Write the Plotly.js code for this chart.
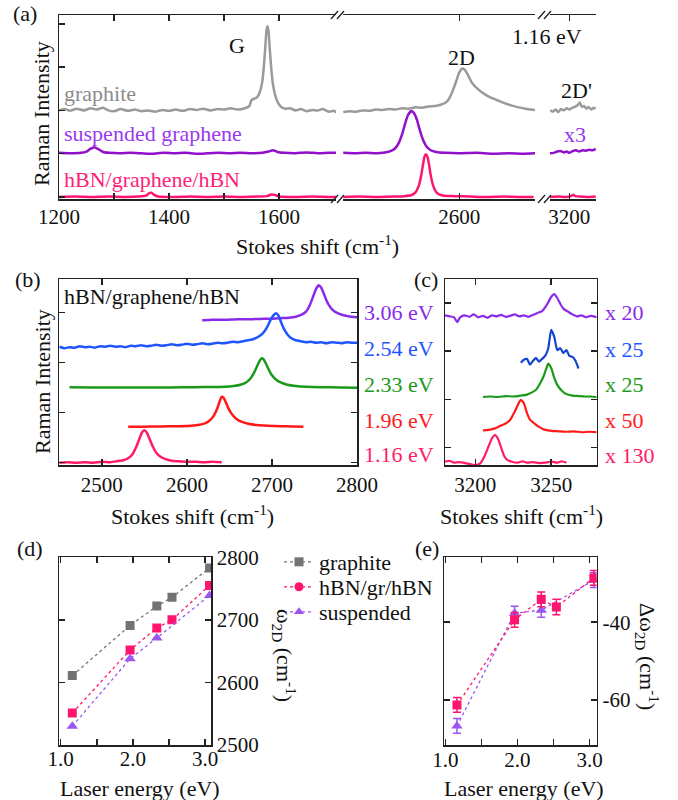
<!DOCTYPE html>
<html><head><meta charset="utf-8">
<script src="https://cdn.plot.ly/plotly-3.0.1.min.js"></script>
<style>html,body{margin:0;padding:0;background:#fff}</style>
</head><body><div id="chart" style="width:678px;height:800px"></div>
<script>
// ---------- Panel (a): 1.16 eV spectra, three broken x segments ----------
const aGraphiteS1x = [1200,1210,1220,1232,1245,1258,1268,1280,1290,1300,1312,1325,1338,1350,1362,1375,1388,1400,1412,1425,1438,1450,1462,1475,1488,1500,1512,1525,1538,1546,1550,1555,1560,1565,1569,1572,1575,1577,1579,1581,1583,1586,1589,1593,1598,1604,1612,1620,1630,1640,1650,1660,1670,1680,1690,1700,1704];
const aGraphiteS1y = [2.00,2.03,1.99,2.04,2.00,2.05,2.02,2.06,2.00,1.98,2.03,1.99,2.02,1.98,2.00,1.97,2.01,1.99,2.02,1.99,2.03,2.01,2.04,2.00,2.03,2.02,2.05,2.02,2.05,2.10,2.24,2.27,2.30,2.42,2.62,2.95,3.45,3.82,3.95,3.82,3.45,2.95,2.60,2.35,2.18,2.08,2.04,2.05,2.00,2.03,1.98,2.01,2.00,2.03,1.97,1.99,1.95];
const aGraphiteS2x = [2389,2400,2412,2424,2436,2448,2460,2472,2484,2496,2508,2520,2532,2544,2556,2566,2574,2580,2585,2590,2595,2599,2603,2606,2609,2613,2617,2622,2628,2635,2643,2652,2662,2672,2684,2696,2708,2720,2730,2738];
const aGraphiteS2y = [1.96,1.98,1.97,2.00,1.99,2.02,2.01,2.03,2.02,2.05,2.04,2.07,2.06,2.09,2.10,2.13,2.17,2.24,2.36,2.52,2.70,2.85,2.94,2.97,2.95,2.88,2.78,2.66,2.56,2.48,2.40,2.33,2.27,2.22,2.16,2.11,2.07,2.04,2.02,2.01];
const aGraphiteS3x = [3165,3170,3175,3180,3185,3190,3195,3200,3205,3210,3215,3219,3223,3227,3231,3235,3240,3244,3248];
const aGraphiteS3y = [2.00,1.97,2.02,1.96,2.03,2.00,2.05,2.02,2.06,2.08,2.12,2.18,2.08,2.10,2.04,2.08,2.02,2.06,2.04];

const aSuspS1x = [1200,1220,1240,1250,1257,1264,1271,1280,1292,1310,1330,1350,1370,1390,1410,1430,1450,1470,1490,1510,1530,1550,1570,1581,1589,1597,1610,1630,1650,1670,1690,1704];
const aSuspS1y = [1.02,1.01,1.02,1.05,1.11,1.15,1.11,1.04,1.02,1.01,1.02,1.01,1.00,1.02,1.01,1.02,1.00,1.01,1.02,1.01,1.02,1.01,1.02,1.05,1.08,1.04,1.02,1.01,1.03,1.01,1.02,1.02];
const aSuspS2x = [2389,2410,2430,2450,2465,2475,2483,2490,2496,2502,2507,2513,2518,2523,2528,2534,2540,2548,2558,2575,2600,2630,2660,2690,2715,2738];
const aSuspS2y = [1.02,1.01,1.02,1.01,1.03,1.06,1.12,1.25,1.45,1.72,1.90,1.985,1.93,1.78,1.55,1.32,1.17,1.08,1.04,1.02,1.01,1.02,1.00,1.01,1.00,1.01];
const aSuspS3x = [3165,3172,3178,3184,3190,3195,3200,3206,3212,3218,3224,3230,3236,3242,3248];
const aSuspS3y = [1.01,1.02,1.05,1.06,1.03,1.05,1.02,1.06,1.08,1.05,1.08,1.07,1.09,1.08,1.11];

const aHbnS1x = [1200,1230,1260,1290,1320,1345,1358,1364,1368,1373,1380,1410,1440,1470,1500,1530,1560,1578,1586,1592,1600,1630,1660,1690,1704];
const aHbnS1y = [0.00,0.01,0.00,0.01,0.00,0.01,0.03,0.09,0.10,0.05,0.01,0.00,0.01,0.00,0.01,0.00,0.01,0.02,0.06,0.05,0.01,0.00,0.01,0.00,0.00];
const aHbnS2x = [2389,2420,2450,2480,2500,2512,2520,2526,2530,2534,2537,2539,2542,2545,2548,2552,2557,2563,2572,2590,2620,2650,2680,2710,2735];
const aHbnS2y = [0.00,0.01,0.00,0.01,0.02,0.04,0.10,0.25,0.45,0.75,0.95,0.99,0.93,0.75,0.50,0.28,0.13,0.06,0.03,0.02,0.01,0.00,0.01,0.00,0.00];
const aHbnS3x = [3165,3180,3195,3203,3207,3211,3220,3235,3248];
const aHbnS3y = [0.00,0.01,0.00,0.02,0.05,0.02,0.01,0.00,0.01];

const aTicks1 = [1200,1400,1600];
const aMinor1 = [1300,1500];

// ---------- Panel (b): hBN/graphene/hBN 2D band, offset spectra ----------
const b306x = [2618,2630,2645,2660,2675,2690,2700,2710,2720,2728,2735,2740,2745,2749,2752,2755,2758,2761,2764,2767,2771,2776,2782,2790,2800];
const b306y = [2.85,2.86,2.86,2.87,2.87,2.88,2.88,2.89,2.90,2.92,2.96,3.02,3.17,3.35,3.48,3.55,3.50,3.38,3.25,3.15,3.06,3.00,2.96,2.93,2.91];
const b254x = [2450,2456,2462,2468,2474,2480,2486,2492,2498,2504,2510,2516,2522,2528,2534,2540,2546,2552,2558,2564,2570,2576,2582,2588,2594,2600,2606,2612,2618,2624,2630,2636,2642,2648,2654,2660,2666,2672,2678,2684,2689,2694,2698,2702,2705,2708,2711,2714,2718,2722,2728,2734,2740,2746,2752,2758,2764,2770,2776,2782,2788,2794,2800];
const b254y = [2.32,2.29,2.31,2.30,2.33,2.31,2.32,2.30,2.33,2.32,2.34,2.32,2.33,2.31,2.34,2.33,2.35,2.33,2.34,2.36,2.34,2.35,2.37,2.35,2.36,2.38,2.36,2.37,2.39,2.37,2.38,2.40,2.39,2.40,2.42,2.41,2.43,2.45,2.47,2.52,2.58,2.70,2.84,2.95,2.99,2.93,2.80,2.68,2.57,2.50,2.45,2.43,2.41,2.42,2.40,2.41,2.39,2.41,2.40,2.39,2.41,2.40,2.40];
const b233x = [2462,2490,2520,2550,2580,2610,2630,2645,2655,2663,2670,2675,2679,2683,2686,2688,2690,2693,2696,2700,2705,2711,2718,2728,2740,2760,2780,2800];
const b233y = [1.51,1.505,1.505,1.505,1.505,1.51,1.515,1.52,1.535,1.56,1.61,1.69,1.80,1.95,2.05,2.09,2.07,1.98,1.87,1.75,1.66,1.60,1.56,1.535,1.52,1.51,1.505,1.50];
const b196x = [2531,2550,2570,2590,2605,2615,2622,2628,2632,2636,2639,2641,2643,2646,2649,2653,2658,2664,2672,2682,2695,2710,2725,2737];
const b196y = [0.72,0.72,0.725,0.73,0.74,0.76,0.79,0.86,0.95,1.10,1.25,1.32,1.30,1.20,1.08,0.97,0.88,0.82,0.78,0.755,0.74,0.73,0.725,0.72];
const b116x = [2450,2460,2470,2480,2490,2500,2510,2518,2525,2531,2536,2540,2544,2547,2550,2553,2556,2560,2564,2569,2575,2582,2590,2600,2610,2620,2630,2641];
const b116y = [0.00,0.01,0.00,0.01,0.00,0.02,0.01,0.03,0.05,0.09,0.17,0.30,0.47,0.60,0.65,0.60,0.48,0.32,0.20,0.12,0.07,0.04,0.03,0.02,0.02,0.01,0.02,0.01];
const bTicks = [2500,2600,2700,2800];

// ---------- Panel (c): 2D' band, offset spectra ----------
const c306x = [3180,3183,3186,3188,3190,3193,3196,3199,3202,3205,3208,3211,3214,3217,3220,3223,3226,3229,3232,3235,3238,3241,3244,3247,3250,3252,3254,3256,3258,3261,3264,3267,3270,3273,3276,3280];
const c306y = [2.74,2.72,2.70,2.60,2.70,2.74,2.71,2.76,2.70,2.73,2.69,2.74,2.72,2.75,2.71,2.73,2.76,2.72,2.74,2.71,2.75,2.79,2.83,2.95,3.12,3.18,3.10,2.98,2.88,2.82,2.76,2.72,2.74,2.70,2.73,2.70];
const c254x = [3230,3232,3234,3236,3238,3240,3242,3244,3246,3248,3250,3252,3254,3256,3258,3260,3262,3264,3266,3268];
const c254y = [1.76,1.82,1.84,1.72,1.80,1.86,1.78,1.84,1.90,2.05,2.44,2.30,2.02,2.06,1.96,2.02,1.90,1.88,1.80,1.64];
const c233x = [3205,3210,3215,3220,3225,3230,3234,3237,3240,3243,3245,3247,3248,3250,3252,3254,3257,3260,3264,3268,3272,3276,3280];
const c233y = [1.05,1.06,1.05,1.07,1.06,1.08,1.10,1.14,1.20,1.35,1.48,1.66,1.74,1.65,1.45,1.30,1.18,1.11,1.08,1.07,1.06,1.06,1.05];
const c196x = [3205,3209,3213,3217,3220,3223,3226,3229,3230,3232,3234,3236,3239,3242,3245,3250,3255,3260,3265,3270,3275,3280];
const c196y = [0.36,0.37,0.40,0.46,0.50,0.58,0.75,0.95,0.99,0.92,0.72,0.58,0.50,0.43,0.38,0.35,0.34,0.33,0.34,0.32,0.33,0.32];
const c116x = [3180,3183,3186,3189,3192,3195,3198,3200,3203,3206,3209,3211,3213,3215,3217,3219,3221,3224,3228,3231,3234,3238,3242,3246,3250,3254,3257,3260];
const c116y = [-0.29,-0.27,-0.31,-0.30,-0.31,-0.33,-0.35,-0.36,-0.33,-0.18,0.05,0.20,0.26,0.18,0.00,-0.17,-0.25,-0.29,-0.31,-0.28,-0.31,-0.30,-0.32,-0.31,-0.29,-0.31,-0.28,-0.31];
const cTicks = [3200,3250];

// ---------- Panels (d), (e): 2D position vs laser energy ----------
const laserE = [1.16,1.96,2.33,2.54,3.06];
const suspE = [1.16,1.96,2.33,3.06];
const graphite2D = [2611,2691,2722,2736,2783];
const hbn2D = [2551,2652,2687,2700,2755];
const susp2D = [2530,2638,2671,2739];
const hbnDelta = [-61.3,-39.4,-34.1,-36.1,-28.6];
const hbnDeltaErr = [1.9,1.9,1.9,2.0,1.9];
const suspDelta = [-66.7,-37.7,-36.9,-29.2];
const suspDeltaErr = [1.9,1.8,1.8,1.9];
const eTicks = [1, 2, 3];
const eTickText = ['1.0', '2.0', '3.0'];
const eMinor = [1.5, 2.5];
const legendNames = ['graphite','hBN/gr/hBN','suspended'];

// ---------- styling ----------
const W = 678, H = 800;
const FONT = '"Liberation Serif", "DejaVu Serif", serif';
const C = {grey:'#9a9a9a', dgrey:'#737373', vio:'#9010cc', vioT:'#9a38f0', pink:'#ff1470', pinkT:'#ff2277',
  p306:'#8a2be8', b254:'#1f55ff', b254c:'#1445d0', g233:'#1a991a', r196:'#ff1a1a', p116:'#ff1a6a', dPur:'#9b55f0'};
const px = v => v / W, py = v => 1 - v / H;

function ax(extra) {
  return Object.assign({showgrid:false, zeroline:false, showline:true, linecolor:'#222', linewidth:1.5,
    ticks:'inside', ticklen:6, tickwidth:1.5, tickcolor:'#222', mirror:'ticks',
    tickfont:{family:FONT, size:21, color:'#111'}, fixedrange:true}, extra);
}
function minorTicks(vals) { return {tickvals:vals, ticks:'inside', ticklen:6, tickwidth:1.5, tickcolor:'#222', showgrid:false}; }
function line(x, y, xa, ya, color, w) {
  return {type:'scatter', mode:'lines', x:x, y:y, xaxis:xa, yaxis:ya, showlegend:false, hoverinfo:'skip',
    line:{color:color, width:w || 2.5, shape:'spline', smoothing:0.5}};
}

const traces = [
  line(aGraphiteS1x, aGraphiteS1y, 'x', 'y', C.grey),
  line(aGraphiteS2x, aGraphiteS2y, 'x2', 'y', C.grey),
  line(aGraphiteS3x, aGraphiteS3y, 'x3', 'y', C.grey),
  line(aSuspS1x, aSuspS1y, 'x', 'y', C.vio),
  line(aSuspS2x, aSuspS2y, 'x2', 'y', C.vio),
  line(aSuspS3x, aSuspS3y, 'x3', 'y', C.vio),
  line(aHbnS1x, aHbnS1y, 'x', 'y', C.pink),
  line(aHbnS2x, aHbnS2y, 'x2', 'y', C.pink),
  line(aHbnS3x, aHbnS3y, 'x3', 'y', C.pink),
  line(b306x, b306y, 'x4', 'y4', C.p306),
  line(b254x, b254y, 'x4', 'y4', C.b254),
  line(b233x, b233y, 'x4', 'y4', C.g233),
  line(b196x, b196y, 'x4', 'y4', C.r196),
  line(b116x, b116y, 'x4', 'y4', C.p116),
  line(c306x, c306y, 'x5', 'y5', C.p306, 2.2),
  line(c254x, c254y, 'x5', 'y5', C.b254c, 2.2),
  line(c233x, c233y, 'x5', 'y5', C.g233, 2.2),
  line(c196x, c196y, 'x5', 'y5', C.r196, 2.2),
  line(c116x, c116y, 'x5', 'y5', C.p116, 2.2)
];
function pts(x, y, xa, ya, color, symbol, size, err) {
  const t = {type:'scatter', mode:'lines+markers', x:x, y:y, xaxis:xa, yaxis:ya, showlegend:false, hoverinfo:'skip',
    line:{color:color, width:1.3, dash:'dot'}, marker:{color:color, symbol:symbol, size:size}};
  if (err) t.error_y = {type:'data', array:err, visible:true, color:color, thickness:1.5, width:4};
  return t;
}
traces.push(
  pts(laserE, graphite2D, 'x6', 'y6', C.dgrey, 'square', 9),
  pts(laserE, hbn2D, 'x6', 'y6', C.pink, 'square', 9),
  pts(suspE, susp2D, 'x6', 'y6', C.dPur, 'triangle-up', 10),
  pts(suspE, suspDelta, 'x7', 'y7', C.dPur, 'triangle-up', 10, suspDeltaErr),
  pts(laserE, hbnDelta, 'x7', 'y7', C.pink, 'square', 9, hbnDeltaErr)
);
// legend-only entries
const legSym = [['square', C.dgrey, 'legend'], ['circle', C.pink, 'legend2'], ['triangle-up', C.dPur, 'legend3']];
legSym.forEach((s, i) => traces.push({type:'scatter', mode:'lines+markers', x:[null], y:[null], xaxis:'x6', yaxis:'y6',
  name:legendNames[i], legend:s[2], showlegend:true, hoverinfo:'skip',
  line:{color:s[1], width:1.3, dash:'dot'}, marker:{color:s[1], symbol:s[0], size:9}}));

function ann(text, x, y, opt) {
  return Object.assign({text:text, x:px(x), y:py(y), xref:'paper', yref:'paper', showarrow:false,
    xanchor:'center', yanchor:'middle', font:{family:FONT, size:22, color:'#111'}}, opt || {});
}
function f(color, size) { return {family:FONT, size:size || 22, color:color}; }
const annotations = [
  ann('(a)', 25, 14), ann('G', 237, 45), ann('2D', 462, 57), ann('1.16 eV', 547, 36), ann("2D'", 576, 90),
  ann('graphite', 62, 94, {xanchor:'left', font:f('#8c8c8c')}),
  ann('suspended graphene', 62, 133, {xanchor:'left', font:f(C.vioT)}),
  ann('hBN/graphene/hBN', 62, 180, {xanchor:'left', font:f(C.pinkT)}),
  ann('x3', 575, 135, {font:f(C.vioT)}),
  ann('Raman Intensity', 42, 114, {textangle:-90}),
  ann('Stokes shift (cm<sup>-1</sup>)', 317, 245),
  ann('(b)', 28, 279), ann('(c)', 426, 279),
  ann('hBN/graphene/hBN', 62, 296, {xanchor:'left'}),
  ann('Raman Intensity', 42, 382, {textangle:-90}),
  ann('3.06 eV', 399, 312, {font:f(C.p306)}), ann('2.54 eV', 399, 348, {font:f(C.b254)}),
  ann('2.33 eV', 399, 385, {font:f(C.g233)}), ann('1.96 eV', 399, 420, {font:f(C.r196)}),
  ann('1.16 eV', 399, 454, {font:f(C.p116)}),
  ann('x 20', 603, 312, {xanchor:'left', font:f(C.p306)}), ann('x 25', 603, 349, {xanchor:'left', font:f(C.b254)}),
  ann('x 25', 603, 385, {xanchor:'left', font:f(C.g233)}), ann('x 50', 603, 420, {xanchor:'left', font:f(C.r196)}),
  ann('x 130', 603, 456, {xanchor:'left', font:f(C.p116)}),
  ann('Stokes shift (cm<sup>-1</sup>)', 192, 515), ann('Stokes shift (cm<sup>-1</sup>)', 521, 515),
  ann('(d)', 30, 548), ann('(e)', 427, 548),
  ann('ω<sub>2D</sub> (cm<sup>-1</sup>)', 285, 655, {textangle:90}),
  ann('Δω<sub>2D</sub> (cm<sup>-1</sup>)', 648, 656, {textangle:90}),
  ann('Laser energy (eV)', 140, 788), ann('Laser energy (eV)', 524, 788)
];

// axis-break marks
const shapes = [];
[[331, 15], [337, 15], [538, 15], [544, 15], [331, 199], [337, 199], [538, 199], [544, 199]].forEach(p => {
  shapes.push({type:'line', xref:'paper', yref:'paper', x0:px(p[0]), y0:py(p[1] + 4), x1:px(p[0] + 7), y1:py(p[1] - 4),
    line:{color:'#222', width:1.3}});
});

const legBase = {xanchor:'left', yanchor:'middle', bgcolor:'rgba(0,0,0,0)', borderwidth:0, itemwidth:30,
  font:{family:FONT, size:22, color:'#111'}};
const layout = {
  width:W, height:H, margin:{l:0, r:0, t:0, b:0}, paper_bgcolor:'#fff', plot_bgcolor:'rgba(0,0,0,0)',
  font:{family:FONT}, showlegend:true,
  legend:Object.assign({x:px(279), y:py(562)}, legBase),
  legend2:Object.assign({x:px(279), y:py(587)}, legBase),
  legend3:Object.assign({x:px(279), y:py(612)}, legBase),
  xaxis:ax({domain:[px(59), px(336)], range:[1200, 1703.6], anchor:'y', tickvals:aTicks1, minor:minorTicks(aMinor1), ticklabelstandoff:-2}),
  xaxis2:ax({domain:[px(343), px(535)], range:[2388.5, 2737.6], anchor:'y', tickvals:[2600], ticklabelstandoff:-2}),
  xaxis3:ax({domain:[px(550), px(596)], range:[3165, 3248.5], anchor:'y', tickvals:[3200], ticklabelstandoff:-2}),
  yaxis:ax({domain:[py(199), py(15)], range:[-0.046, 4.203], anchor:'x', mirror:false, tickvals:[0,1,2,3,4], showticklabels:false}),
  yaxis2:ax({overlaying:'y', anchor:'free', position:px(596), side:'right', range:[-0.046, 4.203], mirror:false,
    tickvals:[0,1,2,3,4], showticklabels:false}),
  xaxis4:ax({domain:[px(59.3), px(357)], range:[2450, 2800], anchor:'y4', tickvals:bTicks}),
  yaxis4:ax({domain:[py(465), py(279)], range:[-0.046, 3.674], anchor:'x4', tickvals:[0,1,2,3], showticklabels:false}),
  xaxis5:ax({domain:[px(445), px(596.7)], range:[3180, 3280], anchor:'y5', tickvals:cTicks}),
  yaxis5:ax({domain:[py(465), py(279)], range:[-0.358, 3.493], anchor:'x5', tickvals:[0,1,2,3], showticklabels:false}),
  xaxis6:ax({domain:[px(59.3), px(211)], range:[0.98, 3.08], anchor:'y6', tickvals:eTicks, ticktext:eTickText, minor:minorTicks(eMinor), ticklabelstandoff:-6}),
  yaxis6:ax({domain:[py(745), py(557.3)], range:[2500, 2800], anchor:'x6', side:'right', tickvals:[2500,2600,2700,2800]}),
  xaxis7:ax({domain:[px(444), px(596.7)], range:[0.98, 3.1], anchor:'y7', tickvals:eTicks, ticktext:eTickText, minor:minorTicks(eMinor), ticklabelstandoff:-5}),
  yaxis7:ax({domain:[py(745), py(557.3)], range:[-71.6, -23.3], anchor:'x7', side:'right', tickvals:[-60,-40], ticktext:['-60','-40']}),
  annotations:annotations, shapes:shapes
};
Plotly.newPlot('chart', traces, layout, {displayModeBar:false, staticPlot:true});
</script></body></html>
